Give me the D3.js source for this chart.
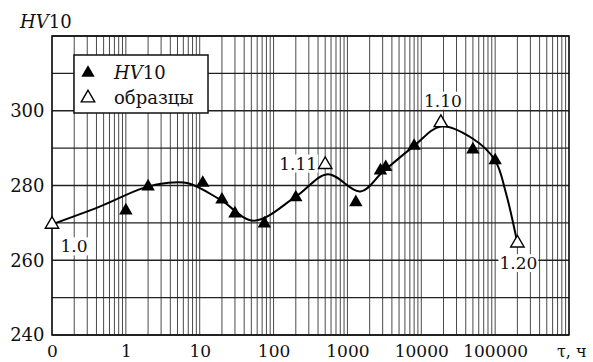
<!DOCTYPE html>
<html>
<head>
<meta charset="utf-8">
<script src="https://cdn.jsdelivr.net/npm/d3@7"></script>
<style>
  body { margin: 0; background: #fff; }
  svg { display: block; font-family: "DejaVu Serif", serif; }
</style>
</head>
<body>
<svg id="chart" width="593" height="362"></svg>
<script>
// HV10 measurements (filled triangles)
var hvTime = [1, 2, 11, 20, 30, 75, 200, 1300, 2800, 3300, 8000, 50000, 100000];
var hvValue = [273.3, 279.7, 280.7, 276.2, 272.5, 269.8, 276.8, 275.5, 284, 284.9, 290.6, 289.6, 286.7];

// samples (open triangles) and their names
var sampleTime = [0.1, 500, 18400, 200000];
var sampleValue = [269.6, 285.6, 296.8, 264.6];
var sampleName = ["1.0", "1.11", "1.10", "1.20"];

// fitted curve
var curveTime = [0.1, 0.45, 1.7, 3.6, 7, 19, 54, 200, 540, 1500, 3000, 8000, 18400, 50000, 100000, 140000, 200000];
var curveValue = [269.6, 274.4, 279.3, 280.7, 280.6, 276.2, 270.6, 277, 283, 278.4, 283.6, 290.6, 295.8, 292.5, 286.7, 278, 264.6];

var xTicks = [0.1, 1, 10, 100, 1000, 10000, 100000];
var xTickLabels = ["0", "1", "10", "100", "1000", "10000", "100000"];
var yTicks = [240, 260, 280, 300];

var margin = { top: 36, right: 24, bottom: 27, left: 52 };
var svg = d3.select("#chart");
var width = +svg.attr("width") - margin.left - margin.right;
var height = +svg.attr("height") - margin.top - margin.bottom;

var x = d3.scaleLog().domain([0.1, 1e6]).range([0, width]);
var y = d3.scaleLinear().domain([240, 320]).range([height, 0]);

var g = svg.append("g").attr("transform", "translate(" + margin.left + "," + margin.top + ")");

// vertical log grid
var vLines = [];
for (var e = -1; e < 6; e++) {
  for (var k = 1; k < 10; k++) vLines.push(k * Math.pow(10, e));
}
vLines.push(1e6);
g.selectAll(".vgrid").data(vLines).enter().append("line")
  .attr("x1", d => x(d)).attr("x2", d => x(d))
  .attr("y1", 0).attr("y2", height)
  .attr("stroke", "#4a4a4a").attr("stroke-width", 1);

// horizontal grid every 10
g.selectAll(".hgrid").data(d3.range(240, 321, 10)).enter().append("line")
  .attr("x1", 0).attr("x2", width)
  .attr("y1", d => y(d)).attr("y2", d => y(d))
  .attr("stroke", "#222").attr("stroke-width", 1.3);

// frame
g.append("rect").attr("width", width).attr("height", height)
  .attr("fill", "none").attr("stroke", "#111").attr("stroke-width", 1.5);

// axes (labels only)
var xAxis = d3.axisBottom(x).tickValues(xTicks).tickSize(0)
  .tickFormat((d, i) => xTickLabels[i]);
g.append("g").attr("transform", "translate(0," + height + ")").call(xAxis)
  .call(a => a.select(".domain").remove())
  .selectAll("text").attr("font-size", 17).attr("fill", "#111")
  .attr("font-family", "DejaVu Serif").attr("dy", "1.1em");

var yAxis = d3.axisLeft(y).tickValues(yTicks).tickSize(0);
g.append("g").call(yAxis)
  .call(a => a.select(".domain").remove())
  .selectAll("text").attr("font-size", 18).attr("fill", "#111")
  .attr("font-family", "DejaVu Serif").attr("dx", "-0.25em");

// axis titles
var yt = svg.append("text").attr("x", 20).attr("y", 28)
  .attr("font-size", 18).attr("fill", "#111");
yt.append("tspan").attr("font-style", "italic").text("HV");
yt.append("tspan").text("10");
svg.append("text").attr("x", 557).attr("y", 357)
  .attr("font-size", 16).attr("fill", "#111").text("τ, ч");

// curve
var curveData = curveTime.map((t, i) => [t, curveValue[i]]);
g.append("path").datum(curveData)
  .attr("d", d3.line().x(d => x(d[0])).y(d => y(d[1])).curve(d3.curveCatmullRom.alpha(0.5)))
  .attr("fill", "none").attr("stroke", "#000").attr("stroke-width", 2);

var tri = d3.symbol().type(d3.symbolTriangle).size(78);

// HV10 points
g.selectAll(".hv").data(hvTime).enter().append("path")
  .attr("d", tri)
  .attr("transform", (d, i) => "translate(" + x(d) + "," + y(hvValue[i]) + ")")
  .attr("fill", "#000");

// sample labels (white background)
var labelOffset = [[22, 22], [-27, -1], [2, -22], [1, 20]];
var lab = g.selectAll(".lab").data(sampleTime).enter().append("g")
  .attr("transform", (d, i) => "translate(" + (x(d) + labelOffset[i][0]) + "," + (y(sampleValue[i]) + labelOffset[i][1]) + ")");
lab.append("rect").attr("x", -1).attr("y", -9).attr("height", 18).attr("fill", "#fff");
lab.append("text").attr("text-anchor", "middle").attr("dy", "0.35em")
  .attr("font-size", 17).attr("fill", "#111").text((d, i) => sampleName[i]);
lab.each(function() {
  var t = d3.select(this).select("text").node().getBBox();
  d3.select(this).select("rect").attr("x", t.x - 1).attr("width", t.width + 2);
});

// sample points
g.selectAll(".smp").data(sampleTime).enter().append("path")
  .attr("d", tri)
  .attr("transform", (d, i) => "translate(" + x(d) + "," + y(sampleValue[i]) + ")")
  .attr("fill", "#fff").attr("stroke", "#000").attr("stroke-width", 1.4);

// legend
var leg = svg.append("g").attr("transform", "translate(74,55)");
leg.append("rect").attr("width", 134).attr("height", 58)
  .attr("fill", "#fff").attr("stroke", "#111").attr("stroke-width", 1.5);
leg.append("path").attr("d", tri).attr("transform", "translate(14,18)").attr("fill", "#000");
leg.append("path").attr("d", tri).attr("transform", "translate(14,43)")
  .attr("fill", "#fff").attr("stroke", "#000").attr("stroke-width", 1.4);
var l1 = leg.append("text").attr("x", 40).attr("y", 24).attr("font-size", 18).attr("fill", "#111");
l1.append("tspan").attr("font-style", "italic").text("HV");
l1.append("tspan").text("10");
leg.append("text").attr("x", 40).attr("y", 49).attr("font-size", 18).attr("fill", "#111").text("образцы");
</script>
</body>
</html>
